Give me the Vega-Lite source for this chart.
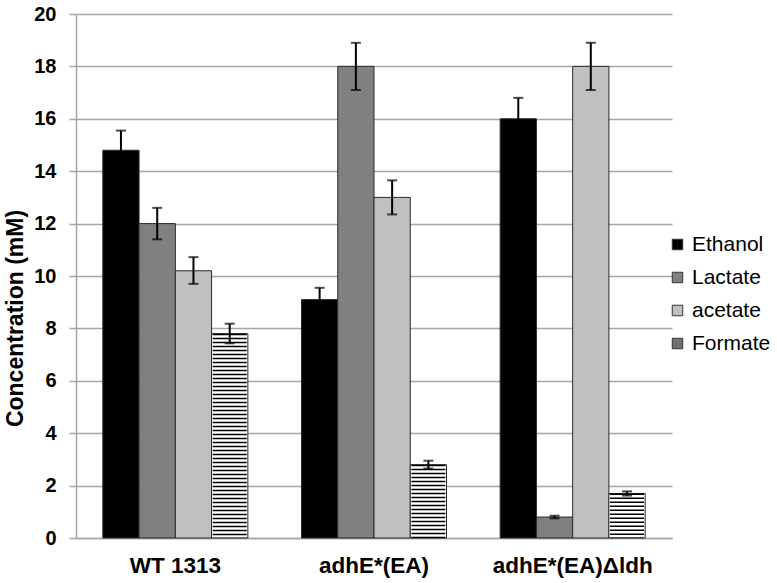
{
  "$schema": "https://vega.github.io/schema/vega-lite/v6.json",
  "autosize": {"type": "none"},
  "width": 596,
  "height": 524,
  "padding": {"left": 76, "top": 14, "right": 105, "bottom": 45},
  "background": "#ffffff",
  "config": {
    "font": "Liberation Sans",
    "view": {"stroke": null},
    "axis": {"labelFont": "Liberation Sans", "titleFont": "Liberation Sans"}
  },
  "data": {
    "values": [
      {"strain": "WT 1313", "compound": "Ethanol", "value": 14.8, "lo": 14.05, "hi": 15.55},
      {"strain": "WT 1313", "compound": "Lactate", "value": 12.0, "lo": 11.4, "hi": 12.6},
      {"strain": "WT 1313", "compound": "acetate", "value": 10.2, "lo": 9.7, "hi": 10.72},
      {"strain": "WT 1313", "compound": "Formate", "value": 7.8, "lo": 7.43, "hi": 8.18},
      {"strain": "adhE*(EA)", "compound": "Ethanol", "value": 9.1, "lo": 8.65, "hi": 9.55},
      {"strain": "adhE*(EA)", "compound": "Lactate", "value": 18.0, "lo": 17.1, "hi": 18.9},
      {"strain": "adhE*(EA)", "compound": "acetate", "value": 13.0, "lo": 12.35, "hi": 13.65},
      {"strain": "adhE*(EA)", "compound": "Formate", "value": 2.8, "lo": 2.65, "hi": 2.95},
      {"strain": "adhE*(EA)Δldh", "compound": "Ethanol", "value": 16.0, "lo": 15.2, "hi": 16.8},
      {"strain": "adhE*(EA)Δldh", "compound": "Lactate", "value": 0.8, "lo": 0.75, "hi": 0.85},
      {"strain": "adhE*(EA)Δldh", "compound": "acetate", "value": 18.0, "lo": 17.1, "hi": 18.9},
      {"strain": "adhE*(EA)Δldh", "compound": "Formate", "value": 1.7, "lo": 1.62, "hi": 1.78}
    ]
  },
  "encoding": {
    "x": {
      "field": "strain",
      "type": "nominal",
      "sort": ["WT 1313", "adhE*(EA)", "adhE*(EA)Δldh"],
      "scale": {"paddingInner": 0.27, "paddingOuter": 0.135},
      "axis": {
        "title": null,
        "labelAngle": 0,
        "labelFontSize": 22.5,
        "labelFontWeight": "bold",
        "labelColor": "#000000",
        "labelPadding": 16,
        "ticks": false,
        "domainColor": "#a6a6a6",
        "domainWidth": 1.5
      }
    },
    "xOffset": {
      "field": "compound",
      "type": "nominal",
      "sort": ["Ethanol", "Lactate", "acetate", "Formate"],
      "scale": {"domain": ["Ethanol", "Lactate", "acetate", "Formate"], "paddingInner": 0, "paddingOuter": 0}
    }
  },
  "layer": [
    {
      "mark": {"type": "bar", "stroke": "#2a2a2a", "strokeWidth": 1},
      "encoding": {
        "y": {
          "field": "value",
          "type": "quantitative",
          "scale": {"domain": [0, 20], "nice": false},
          "axis": {
            "title": "Concentration (mM)",
            "titleFontSize": 23,
            "titleFontWeight": "bold",
            "titleColor": "#000000",
            "titlePadding": 6,
            "titleY": 304,
            "titleAlign": "center",
            "values": [0, 2, 4, 6, 8, 10, 12, 14, 16, 18, 20],
            "labelFontSize": 20,
            "labelFontWeight": "bold",
            "labelColor": "#000000",
            "labelPadding": 13,
            "tickSize": 7,
            "tickColor": "#a6a6a6",
            "tickWidth": 1.5,
            "domainColor": "#a6a6a6",
            "domainWidth": 1.5,
            "grid": true,
            "gridColor": "#a6a6a6",
            "gridWidth": 1.5
          }
        },
        "color": {
          "condition": {"test": "datum.compound === 'Formate'", "value": "#ffffff"},
          "field": "compound",
          "type": "nominal",
          "sort": ["Ethanol", "Lactate", "acetate", "Formate"],
          "scale": {
            "domain": ["Ethanol", "Lactate", "acetate", "Formate"],
            "range": ["#000000", "#808080", "#c0c0c0", "#707070"]
          },
          "legend": {
            "title": null,
            "orient": "none",
            "legendX": 591,
            "legendY": 220,
            "padding": 0,
            "symbolType": "square",
            "symbolSize": 110,
            "symbolStrokeColor": "#333333",
            "symbolStrokeWidth": 1,
            "labelFontSize": 21,
            "labelFont": "Liberation Sans",
            "labelColor": "#000000",
            "labelOffset": 4,
            "rowPadding": 11,
            "encode": {
              "symbols": {
                "update": {
                  "stroke": {"value": "#333333"},
                  "strokeWidth": {"value": 1}
                }
              }
            }
          }
        }
      }
    },
    {
      "transform": [{"filter": "datum.compound === 'Formate'"}],
      "mark": {"type": "rule", "color": "#000000", "strokeWidth": 34, "strokeDash": [1.6, 2.4], "strokeCap": "butt"},
      "encoding": {
        "y": {"field": "value", "type": "quantitative"},
        "y2": {"datum": 0}
      }
    },
    {
      "mark": {"type": "rule", "color": "#000000", "strokeWidth": 2},
      "encoding": {
        "y": {"field": "lo", "type": "quantitative"},
        "y2": {"field": "hi"}
      }
    },
    {
      "mark": {"type": "tick", "color": "#000000", "thickness": 2, "size": 10},
      "encoding": {
        "y": {"field": "lo", "type": "quantitative"}
      }
    },
    {
      "mark": {"type": "tick", "color": "#000000", "thickness": 2, "size": 10},
      "encoding": {
        "y": {"field": "hi", "type": "quantitative"}
      }
    }
  ]
}
